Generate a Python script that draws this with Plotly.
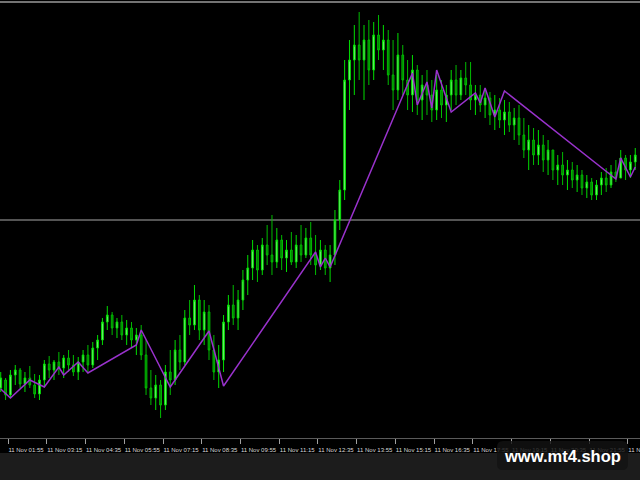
import pandas as pd
import plotly.graph_objects as go

# ---- data (price points), 10-minute candles on 11 Nov ----
start_time = "2022-11-11 01:40"
n_bars = 132

highs = [68, 62, 70, 75, 72, 68, 74, 66, 65, 80,
         84, 80, 88, 85, 90, 85, 83, 90, 95, 98,
         105, 122, 134, 128, 122, 125, 120, 118, 112, 115,
         100, 70, 65, 60, 75, 90, 100, 105, 130, 140,
         155, 145, 140, 135, 105, 95, 125, 145, 155, 150,
         170, 185, 200, 195, 202, 215, 225, 212, 205, 200,
         208, 205, 215, 212, 218, 205, 200, 195, 195, 230,
         260, 380, 400, 415, 428, 415, 420, 418, 425, 415,
         410, 400, 407, 395, 380, 385, 375, 365, 370, 360,
         365, 360, 355, 370, 375, 370, 378, 378, 355, 355,
         352, 348, 345, 342, 340, 338, 332, 335, 322, 315,
         312, 310, 305, 300, 290, 285, 288, 280, 278, 275,
         270, 265, 262, 260, 268, 272, 275, 280, 290, 285,
         285, 292]

lows = [48, 40, 42, 55, 52, 48, 52, 42, 40, 53,
        62, 60, 65, 62, 68, 64, 60, 68, 68, 72,
        80, 95, 110, 105, 102, 100, 95, 92, 85, 80,
        45, 35, 30, 22, 30, 45, 55, 70, 75, 105,
        110, 100, 95, 80, 60, 52, 68, 110, 115, 110,
        130, 145, 160, 158, 165, 175, 165, 172, 170, 168,
        175, 172, 178, 182, 175, 165, 170, 165, 158, 175,
        210, 240, 330, 345, 360, 340, 355, 360, 380, 370,
        355, 330, 340, 345, 330, 328, 325, 320, 325, 318,
        320, 322, 318, 330, 335, 340, 345, 330, 325, 328,
        322, 315, 310, 312, 305, 308, 300, 295, 282, 270,
        275, 275, 268, 265, 260, 255, 255, 250, 252, 248,
        245, 242, 240, 240, 245, 248, 252, 258, 262, 260,
        262, 270]

opens = [52, 60, 45, 65, 70, 56, 62, 55, 46, 60,
         76, 70, 78, 72, 82, 75, 68, 78, 85, 75,
         92, 100, 118, 125, 112, 118, 105, 112, 100, 105,
         85, 52, 42, 55, 35, 68, 60, 90, 78, 122,
         115, 140, 110, 128, 90, 68, 80, 118, 135, 122,
         140, 160, 172, 190, 170, 195, 185, 178, 200, 182,
         190, 178, 195, 185, 202, 185, 175, 190, 172, 185,
         220, 250, 360, 380, 395, 380, 400, 370, 405, 390,
         400, 365, 350, 385, 360, 345, 370, 340, 355, 345,
         330, 350, 335, 345, 360, 345, 362, 355, 340, 345,
         335, 342, 325, 330, 320, 328, 315, 322, 305, 290,
         300, 285, 295, 280, 290, 270, 275, 265, 270, 260,
         265, 252, 258, 245, 255, 262, 255, 268, 262, 282,
         270, 278]

closes = [62, 45, 65, 70, 56, 62, 55, 46, 60, 76,
          70, 78, 72, 82, 75, 68, 78, 85, 75, 92,
          100, 118, 125, 112, 118, 105, 112, 100, 105, 85,
          52, 42, 55, 35, 68, 60, 90, 78, 122, 115,
          140, 110, 128, 90, 68, 80, 118, 135, 122, 140,
          160, 172, 190, 170, 195, 185, 178, 200, 182, 190,
          178, 195, 185, 202, 185, 175, 190, 172, 185, 220,
          250, 360, 380, 395, 380, 400, 370, 405, 390, 400,
          365, 350, 385, 360, 345, 370, 340, 355, 345, 330,
          350, 335, 345, 360, 345, 362, 355, 340, 345, 335,
          342, 325, 330, 320, 328, 315, 322, 305, 290, 300,
          285, 295, 280, 290, 270, 275, 265, 270, 260, 265,
          252, 258, 245, 255, 262, 255, 268, 262, 282, 270,
          278, 285]

# zigzag vertices: bar index and price
zz_idx = [0, 2, 6, 9, 12, 13, 16, 18, 28, 29, 35, 43, 46, 65, 66, 67, 68,
          85, 86, 88, 89, 90, 93, 98, 99, 100, 102, 104, 127, 128, 130, 131]
zz_val = [51, 42, 60, 53, 73, 65, 78, 67, 95, 110, 53, 109, 54, 188, 173, 182, 173,
          367, 335, 358, 332, 370, 328, 347, 337, 352, 323, 349, 261, 282, 263, 273]

# horizontal levels
levels = [438, 220]
level_colors = ["#9a9a9a", "#707070"]

tick_times = ["2022-11-11 01:55", "2022-11-11 03:15", "2022-11-11 04:35", "2022-11-11 05:55",
              "2022-11-11 07:15", "2022-11-11 08:35", "2022-11-11 09:55", "2022-11-11 11:15",
              "2022-11-11 12:35", "2022-11-11 13:55", "2022-11-11 15:15", "2022-11-11 16:35",
              "2022-11-11 17:55", "2022-11-11 19:15", "2022-11-11 20:35", "2022-11-11 21:55",
              "2022-11-11 23:15"]
tick_text = ["11 Nov 01:55", "11 Nov 03:15", "11 Nov 04:35", "11 Nov 05:55",
             "11 Nov 07:15", "11 Nov 08:35", "11 Nov 09:55", "11 Nov 11:15",
             "11 Nov 12:35", "11 Nov 13:55", "11 Nov 15:15", "11 Nov 16:35",
             "11 Nov 17:55", "11 Nov 19:15", "11 Nov 20:35", "11 Nov 21:55",
             "11 Nov 23:15"]

times = pd.date_range(start_time, periods=n_bars, freq="10min")

fig = go.Figure()
fig.add_trace(go.Candlestick(
    x=times, open=opens, high=highs, low=lows, close=closes,
    increasing=dict(line=dict(color="#00dd00", width=1), fillcolor="#8cf58c"),
    decreasing=dict(line=dict(color="#00bb00", width=1), fillcolor="#007a00"),
    whiskerwidth=0, showlegend=False, hoverinfo="skip"))

fig.add_trace(go.Scatter(
    x=[times[i] for i in zz_idx], y=zz_val, mode="lines",
    line=dict(color="#9932cc", width=1.5), showlegend=False, hoverinfo="skip"))

for lv, col in zip(levels, level_colors):
    fig.add_shape(type="line", xref="paper", x0=0, x1=1, yref="y", y0=lv, y1=lv,
                  line=dict(color=col, width=1.5), layer="below")

# bottom grey strip
fig.add_shape(type="rect", xref="paper", yref="paper", x0=0, x1=1, y0=-0.0959, y1=-0.0342,
              fillcolor="#1c1c1c", line=dict(width=0), layer="below")

# watermark box
x0, x1 = 497 / 640, 628 / 640
yt, yb = -3 / 438, -32 / 438
rx, ry = 6 / 640, 6 / 438
path = (f"M {x0+rx},{yt} L {x1-rx},{yt} Q {x1},{yt} {x1},{yt-ry} L {x1},{yb+ry} "
        f"Q {x1},{yb} {x1-rx},{yb} L {x0+rx},{yb} Q {x0},{yb} {x0},{yb+ry} "
        f"L {x0},{yt-ry} Q {x0},{yt} {x0+rx},{yt} Z")
fig.add_shape(type="path", xref="paper", yref="paper", path=path,
              fillcolor="rgba(18,18,18,0.82)", line=dict(width=0), layer="above")
fig.add_annotation(xref="paper", yref="paper", x=562 / 640, y=-18 / 438,
                   text="<b>www.mt4.shop</b>", showarrow=False,
                   xanchor="center", yanchor="middle",
                   font=dict(family="Liberation Sans", size=16.5, color="#ffffff"))

fig.update_layout(
    width=640, height=480,
    margin=dict(l=0, r=0, t=0, b=42, autoexpand=False),
    paper_bgcolor="#000000", plot_bgcolor="#000000",
    showlegend=False,
    boxgap=0.5,
    xaxis=dict(range=["2022-11-11 01:38:29", "2022-11-11 23:39:48"],
               rangeslider=dict(visible=False), automargin=False,
               showgrid=False, zeroline=False,
               showline=True, linecolor="#5a5a5a", linewidth=1,
               tickmode="array", tickvals=tick_times, ticktext=tick_text,
               ticks="outside", ticklen=5, tickcolor="#a0a0a0", tickwidth=1,
               ticklabelshift=18, ticklabelstandoff=1, ticklabeloverflow="allow",
               tickfont=dict(family="Liberation Sans", size=6, color="#d8d8d8"),
               fixedrange=True),
    yaxis=dict(range=[2, 440], visible=False, showgrid=False, zeroline=False,
               automargin=False, fixedrange=True),
)

fig.write_html("out.html", config={"displayModeBar": False},
               post_script="document.body.style.margin='0';document.body.style.background='#000';")
